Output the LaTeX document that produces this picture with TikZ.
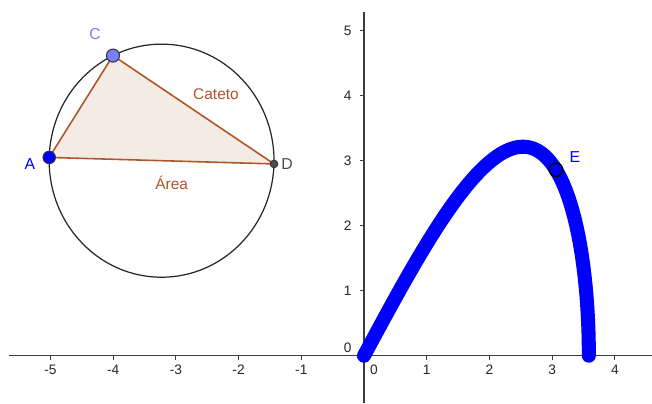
\documentclass[tikz,border=0pt]{standalone}
\usepackage{fontspec}
\setmainfont{Liberation Sans}
\usepackage{tikz}
\usetikzlibrary{positioning}
\usepackage{xcolor}
\definecolor{ggbrown}{RGB}{153,51,0}
\definecolor{ggedge}{RGB}{175,85,45}
\definecolor{ggblue}{RGB}{0,0,255}
\definecolor{gglilac}{RGB}{125,125,255}
\definecolor{gggray}{RGB}{77,77,77}
\definecolor{ggaxis}{RGB}{60,60,60}

\begin{document}
\begin{tikzpicture}[x=1.254cm,y=1.3cm,font=\fontsize{7.8}{9}\selectfont]
\useasboundingbox (-5.805,-0.728) rectangle (4.593,5.472);
% axes
\draw[ggaxis,line width=0.6pt] (-5.66,0) -- (4.593,0);
\draw[ggaxis,line width=0.6pt] (0,-0.728) -- (0,5.29);
\draw[ggaxis,line width=0.6pt] (-5,0) -- (-5,-0.06);
\draw[ggaxis,line width=0.6pt] (-4,0) -- (-4,-0.06);
\draw[ggaxis,line width=0.6pt] (-3,0) -- (-3,-0.06);
\draw[ggaxis,line width=0.6pt] (-2,0) -- (-2,-0.06);
\draw[ggaxis,line width=0.6pt] (-1,0) -- (-1,-0.06);
\draw[ggaxis,line width=0.6pt] (1,0) -- (1,-0.06);
\draw[ggaxis,line width=0.6pt] (2,0) -- (2,-0.06);
\draw[ggaxis,line width=0.6pt] (3,0) -- (3,-0.06);
\draw[ggaxis,line width=0.6pt] (4,0) -- (4,-0.06);
\draw[ggaxis,line width=0.6pt] (0,1) -- (-0.064,1);
\draw[ggaxis,line width=0.6pt] (0,2) -- (-0.064,2);
\draw[ggaxis,line width=0.6pt] (0,3) -- (-0.064,3);
\draw[ggaxis,line width=0.6pt] (0,4) -- (-0.064,4);
\draw[ggaxis,line width=0.6pt] (0,5) -- (-0.064,5);
\node[black!85] (xm5) at (-5,-0.22) {-5};
\node[black!85] (xm4) at (-4,-0.22) {-4};
\node[black!85] (xm3) at (-3,-0.22) {-3};
\node[black!85] (xm2) at (-2,-0.22) {-2};
\node[black!85] (xm1) at (-1,-0.22) {-1};
\node[black!85] (x0) at (0.16,-0.22) {0};
\node[black!85] (x1) at (1,-0.22) {1};
\node[black!85] (x2) at (2,-0.22) {2};
\node[black!85] (x3) at (3,-0.22) {3};
\node[black!85] (x4) at (4,-0.22) {4};
\node[black!85,anchor=east] (y0) at (-0.1,0.12) {0};
\node[black!85,anchor=east] (y1) at (-0.1,1) {1};
\node[black!85,anchor=east] (y2) at (-0.1,2) {2};
\node[black!85,anchor=east] (y3) at (-0.1,3) {3};
\node[black!85,anchor=east] (y4) at (-0.1,4) {4};
\node[black!85,anchor=east] (y5) at (-0.1,5) {5};
% circle and triangle
\coordinate (ctr) at (-3.228,3.0);
\coordinate (A) at (-5.02,3.05);
\coordinate (C) at (-4.003,4.617);
\coordinate (D) at (-1.435,2.95);
\fill[ggbrown!10] (A) -- (C) -- (D) -- cycle;
\draw[ggedge,line width=0.9pt] (A) -- (C) -- (D) -- cycle;
\draw[black!85,line width=0.7pt] (ctr) circle [radius=1.793];
\node[circle,draw=black!80,fill=ggblue,line width=0.6pt,inner sep=0pt,minimum size=0.248cm] (ptA) at (A) {};
\node[circle,draw=black!80,fill=gglilac,line width=0.6pt,inner sep=0pt,minimum size=0.26cm] (ptC) at (C) {};
\node[circle,draw=black!80,fill=gggray,line width=0.5pt,inner sep=0pt,minimum size=0.154cm] (ptD) at (D) {};
\node[ggblue,font=\fontsize{9}{10}\selectfont] (lblA) at (-5.33,2.95) {A};
\node[gglilac,font=\fontsize{9}{10}\selectfont] (lblC) at (-4.29,4.95) {C};
\node[gggray,font=\fontsize{9}{10}\selectfont] (lblD) at (-1.228,2.95) {D};
\node[ggedge,font=\fontsize{8.8}{10}\selectfont] (cateto) at (-2.36,4.03) {Cateto};
\node[ggedge,font=\fontsize{8.8}{10}\selectfont] (area) at (-3.067,2.657) {Área};
% trace of E
\draw[ggblue,line width=8pt,line cap=round] plot[domain=0:90,samples=120] ({3.586*sin(\x)},{3.215*sin(2*\x)});
\node[circle,draw=black,line width=0.8pt,inner sep=0pt,minimum size=0.27cm] (ptE) at (3.062,2.86) {};
\node[ggblue,font=\fontsize{9}{10}\selectfont] (lblE) at (3.365,3.06) {E};
\end{tikzpicture}
\end{document}
